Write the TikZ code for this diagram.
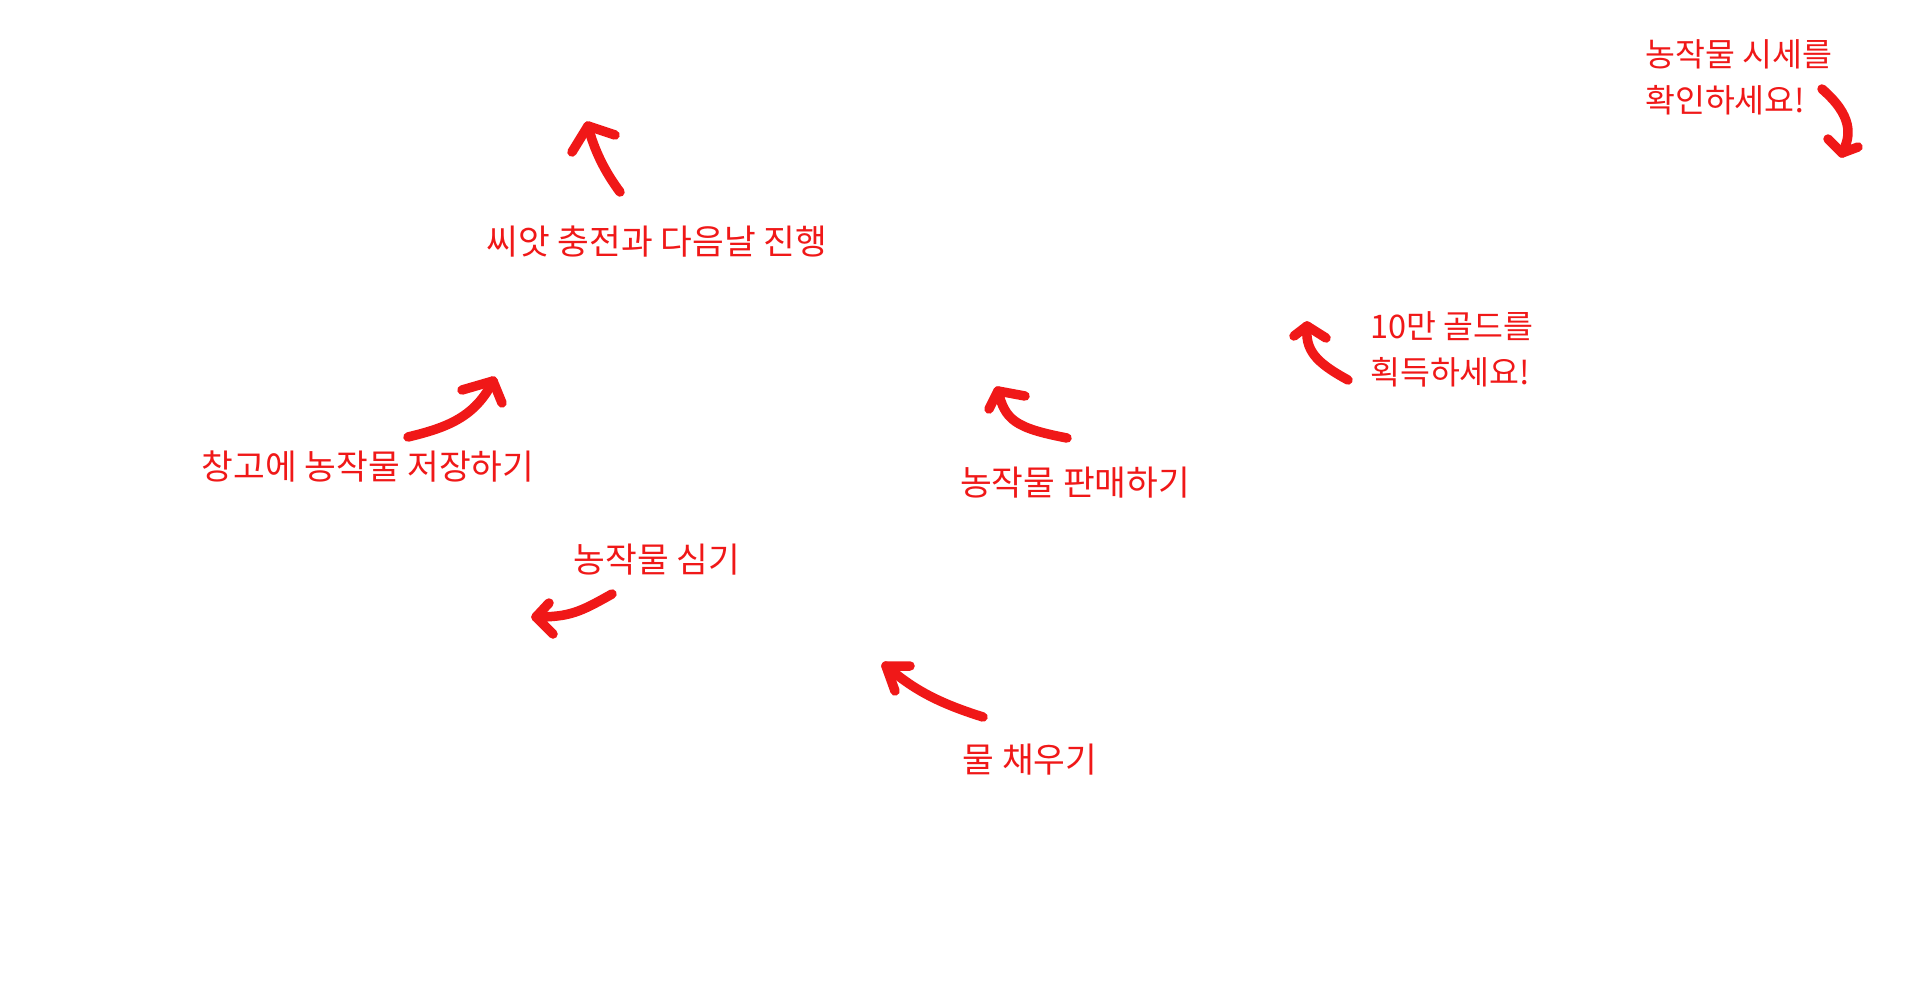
\documentclass[tikz,border=0pt]{standalone}
\usepackage{fontspec}
\newfontfamily\krfont{Noto Sans CJK KR}
\definecolor{inkred}{RGB}{240,24,24}
\begin{document}
\begin{tikzpicture}[x=1pt,y=-1pt,
  lbl/.style={text=inkred,font=\krfont\fontsize{34.5}{45}\selectfont,inner sep=0pt},
  lbltwo/.style={text=inkred,font=\krfont\fontsize{32.5}{46}\selectfont,inner sep=0pt,anchor=west,align=left},
  stroke/.style={draw=inkred,line width=9.5pt,line cap=round,line join=round},
  chev/.style={draw=inkred,line width=9.5pt,line cap=round,line join=round}]
\useasboundingbox[fill=white] (0,0) rectangle (1930,980);

% labels
\node[lbl] (seed) at (657,242) {씨앗 충전과 다음날 진행};
\node[lbl] (store) at (368,467) {창고에 농작물 저장하기};
\node[lbl] (plant) at (657,560) {농작물 심기};
\node[lbl] (water) at (1030,760) {물 채우기};
\node[lbl] (sell) at (1075,483) {농작물 판매하기};
\node[lbltwo] (gold) at (1370,349) {10만 골드를\\획득하세요!};
\node[lbltwo] (price) at (1645,77) {농작물 시세를\\확인하세요!};

% arrow 1 (seed)
\coordinate (a1t) at (620,192); \coordinate (a1h) at (588,126);
\draw[stroke] (a1t) .. controls (605,172) and (594,150) .. (a1h);
\draw[chev] (572,152) -- (a1h) -- (615,135);

% arrow 2 (store)
\coordinate (a2t) at (408,437); \coordinate (a2h) at (493,381);
\draw[stroke] (a2t) .. controls (445,428) and (475,418) .. (a2h);
\draw[chev] (462,390) -- (a2h) -- (502,403);

% arrow 3 (plant)
\coordinate (a3t) at (612,594); \coordinate (a3h) at (536,617);
\draw[stroke] (a3t) .. controls (580,612) and (570,617) .. (a3h);
\draw[chev] (549,603) -- (a3h) -- (553,634);

% arrow 4 (water)
\coordinate (a4t) at (983,717); \coordinate (a4h) at (886,666);
\draw[stroke] (a4t) .. controls (935,702) and (912,688) .. (a4h);
\draw[chev] (910,666) -- (a4h) -- (895,691);

% arrow 5 (sell)
\coordinate (a5t) at (1067,438); \coordinate (a5h) at (998,391);
\draw[stroke] (a5t) .. controls (1015,428) and (1005,420) .. (a5h);
\draw[chev] (989,409) -- (a5h) -- (1025,396);

% arrow 6 (gold)
\coordinate (a6t) at (1348,380); \coordinate (a6h) at (1307,326);
\draw[stroke] (a6t) .. controls (1315,362) and (1305,350) .. (a6h);
\draw[chev] (1294,336) -- (a6h) -- (1326,338);

% arrow 7 (price)
\coordinate (a7t) at (1822,89); \coordinate (a7h) at (1842,153);
\draw[stroke] (a7t) .. controls (1852,115) and (1852,135) .. (a7h);
\draw[chev] (1828,139) -- (a7h) -- (1858,147);
\end{tikzpicture}
\end{document}
